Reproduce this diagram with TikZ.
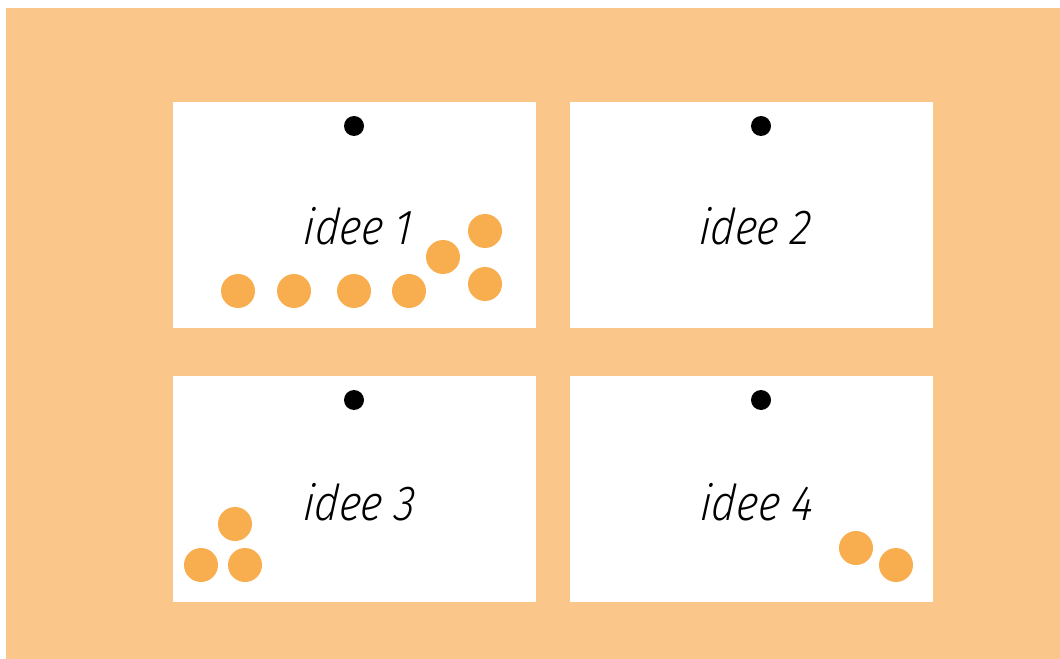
\documentclass[tikz,border=0pt]{standalone}
\usepackage{fontspec}
\setmainfont{Fira Sans}[ItalicFont=* Light Italic]
\definecolor{boardbg}{HTML}{FAC68A}
\definecolor{vote}{HTML}{F8AD4F}
\begin{document}
\begin{tikzpicture}[x=0.75pt,y=-0.75pt,
  board/.style={fill=boardbg},
  card/.style={fill=white},
  pin/.style={fill=black},
  dot/.style={fill=vote},
  label/.style={anchor=base,inner sep=0pt,font=\fontsize{37}{44}\selectfont\itshape\addfontfeatures{FakeSlant=0.1,FakeStretch=0.86}}]
\useasboundingbox (0,0) rectangle (1060,659);
\fill[board] (6,8) rectangle (1060,659);
% cards
\fill[card] (173,102) rectangle (536,328);
\fill[card] (570,102) rectangle (933,328);
\fill[card] (173,376) rectangle (536,602);
\fill[card] (570,376) rectangle (933,602);
% pins
\fill[pin] (354,126) circle (10);
\fill[pin] (761,126) circle (10);
\fill[pin] (354,400) circle (10);
\fill[pin] (761,400) circle (10);
% labels
\node[label] (t1) at (357,245) {idee 1};
\node[label] (t2) at (754,245) {idee 2};
\node[label] (t3) at (358,520) {idee 3};
\node[label] (t4) at (756,520) {idee 4};
% votes card 1
\foreach \x/\y in {238/291, 294/291, 354/291, 409/291, 443/257, 485/231, 485/284}
  \fill[dot] (\x,\y) circle (17);
% votes card 3
\foreach \x/\y in {235/524, 201/565, 245/565}
  \fill[dot] (\x,\y) circle (17);
% votes card 4
\foreach \x/\y in {856/548, 896/565}
  \fill[dot] (\x,\y) circle (17);
\end{tikzpicture}
\end{document}
